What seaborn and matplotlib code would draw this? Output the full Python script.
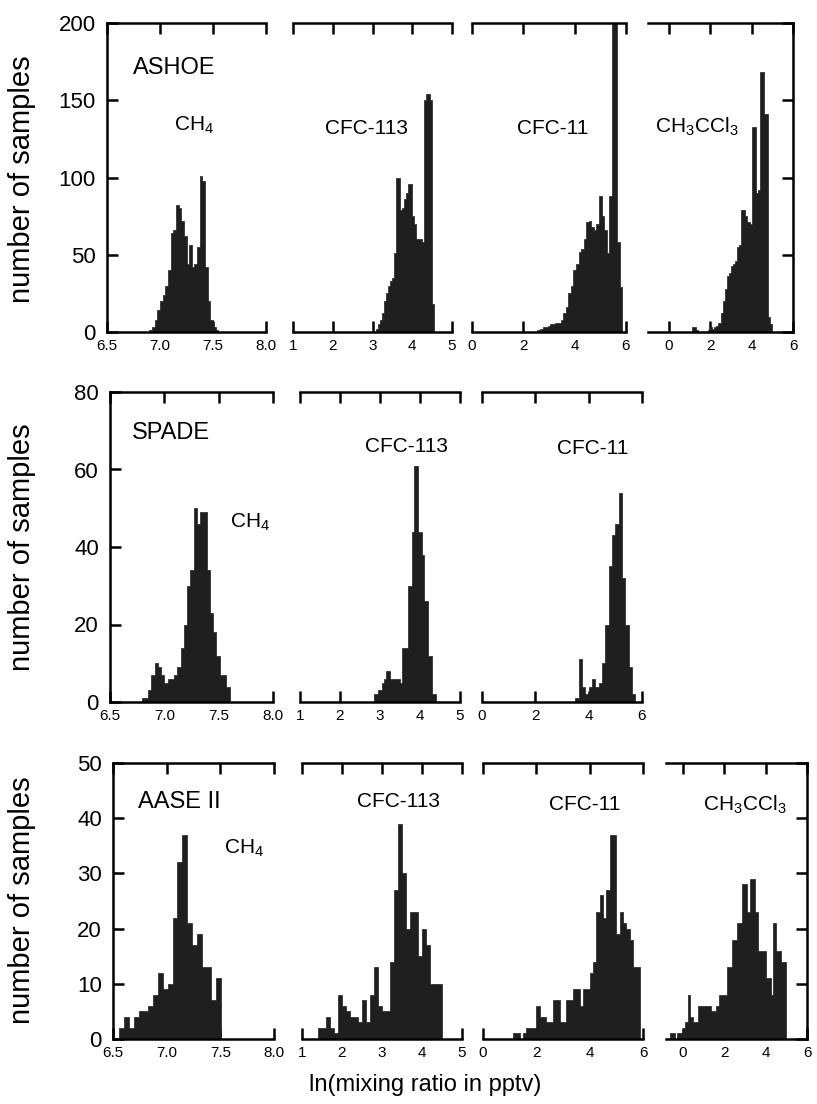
import numpy as np
import pandas as pd
import matplotlib
matplotlib.use("Agg")
import matplotlib.pyplot as plt
import seaborn as sns

sns.set_style("ticks")
plt.rcParams['font.family'] = ['Liberation Sans', 'DejaVu Sans']
plt.rcParams['mathtext.fontset'] = 'custom'
plt.rcParams['mathtext.rm'] = 'Liberation Sans'
plt.rcParams['text.color'] = 'black'
plt.rcParams['xtick.color'] = 'black'
plt.rcParams['ytick.color'] = 'black'

# ---- data: histogram counts (bin start, bin width, counts) ----
# ASHOE
ashoe_ch4_start, ashoe_ch4_width = 6.9, 0.025
ashoe_ch4 = [1, 3, 8, 14, 20, 24, 30, 40, 64, 66, 82, 80, 72, 62, 44, 56, 42, 44, 55,
             101, 98, 42, 20, 8, 3, 1]
ashoe_f113_start, ashoe_f113_width = 3.1, 0.05
ashoe_f113 = [2, 5, 8, 12, 20, 25, 30, 33, 35, 51, 100, 100, 79, 80, 86, 90, 96, 96, 75,
              70, 60, 60, 60, 58, 150, 154, 154, 150, 18]
ashoe_f11_start, ashoe_f11_width = 2.55, 0.1
ashoe_f11 = [1, 2, 3, 3, 4, 5, 5, 6, 6, 8, 12, 16, 25, 30, 40, 44, 52, 54, 60, 71, 72, 68,
             66, 70, 88, 75, 66, 51, 88, 200, 200, 58, 29]
ashoe_mc_start, ashoe_mc_width = 1.1, 0.1
ashoe_mc = [3, 3, 1, 0, 0, 0, 0, 0, 1, 3, 2, 3, 4, 6, 12, 20, 28, 36, 38, 43, 44, 46, 55,
            56, 79, 79, 75, 71, 70, 133, 133, 90, 92, 168, 168, 141, 141, 10, 5]

# SPADE
spade_ch4_start, spade_ch4_width = 6.79, 0.03
spade_ch4 = [1, 1, 3, 7, 10, 9, 7, 5, 6, 6, 7, 9, 14, 20, 30, 34, 50, 46, 49, 49, 34, 23,
             18, 12, 7, 7, 4]
spade_f113_start, spade_f113_width = 2.85, 0.05
spade_f113 = [2, 2, 3, 3, 5, 6, 8, 8, 6, 6, 6, 6, 6, 5, 14, 14, 14, 30, 30, 44, 61, 61, 44,
              44, 38, 26, 26, 12, 12, 2, 2]
spade_f11_start, spade_f11_width = 3.5, 0.125
spade_f11 = [1, 11, 4, 2, 4, 6, 4, 5, 10, 20, 35, 43, 46, 54, 32, 20, 9, 2]

# AASE II
aase_ch4_start, aase_ch4_width = 6.56, 0.045
aase_ch4 = [2, 4, 2, 4, 5, 5, 6, 8, 12, 9, 10, 22, 32, 37, 21, 17, 19, 13, 13, 7, 11]
aase_f113_start, aase_f113_width = 1.4, 0.1
aase_f113 = [2, 2, 4, 2, 1, 8, 6, 5, 4, 4, 3, 7, 3, 8, 13, 6, 5, 5, 14, 27, 39, 30, 20,
             23, 23, 15, 20, 17, 10, 10, 10]
aase_f11_start, aase_f11_width = 1.125, 0.125
aase_f11 = [1, 1, 0, 1, 2, 2, 2, 6, 4, 4, 3, 3, 7, 7, 3, 3, 7, 7, 9, 9, 6, 9, 9, 12, 14,
            23, 26, 22, 27, 37, 37, 19, 23, 21, 20, 18, 13, 13]
aase_mc_start, aase_mc_width = -0.625, 0.125
aase_mc = [1, 1, 0, 1, 1, 2, 3, 8, 4, 3, 3, 6, 6, 6, 6, 6, 5, 5, 6, 8, 8, 8, 13, 13, 18,
           18, 21, 21, 28, 28, 23, 29, 29, 23, 16, 16, 16, 11, 11, 8, 21, 16, 16, 14, 14]

ch4_ticks = [6.5, 7.0, 7.5, 8.0]
ch4_labels = ['6.5', '7.0', '7.5', '8.0']
f113_ticks = [1, 2, 3, 4, 5]
f11_ticks = [0, 2, 4, 6]

row_names = ['ASHOE', 'SPADE', 'AASE II']
row_ylims = [200, 80, 50]
row_ysteps = [50, 20, 10]

CH4 = 'CH$_\\mathregular{4}$'
MC = 'CH$_\\mathregular{3}$CCl$_\\mathregular{3}$'

W, H = 817, 1104
BAR = '#1f1f1f'


def rect(l, t, r, b):
    return [l / W, 1 - b / H, (r - l) / W, (b - t) / H]


def hist(ax, start, width, counts):
    edges = start + width * np.arange(len(counts) + 1)
    df = pd.DataFrame({'x': edges[:-1] + width / 2, 'n': counts})
    sns.histplot(data=df, x='x', weights='n', bins=edges.tolist(), ax=ax, color=BAR,
                 element='step', fill=True, alpha=1, linewidth=0.5, edgecolor=BAR)
    ax.set_xlabel('')
    ax.set_ylabel('')


fig = plt.figure(figsize=(W / 100, H / 100), dpi=100)

# (row, pos, rect, data, xlim, xticks, xticklabels, label, label xy)
panels = [
    (0, 'first', rect(107, 23, 266, 332), (ashoe_ch4_start, ashoe_ch4_width, ashoe_ch4),
     (6.5, 8.0), ch4_ticks, ch4_labels, CH4, (7.13, 134)),
    (0, 'mid', rect(293, 23, 452, 332), (ashoe_f113_start, ashoe_f113_width, ashoe_f113),
     (1, 5), f113_ticks, None, 'CFC-113', (1.8, 132)),
    (0, 'mid', rect(472, 23, 626, 332), (ashoe_f11_start, ashoe_f11_width, ashoe_f11),
     (0, 6), f11_ticks, None, 'CFC-11', (1.77, 132)),
    (0, 'last', rect(648, 23, 793, 332), (ashoe_mc_start, ashoe_mc_width, ashoe_mc),
     (-1, 6), f11_ticks, None, MC, (-0.66, 133)),
    (1, 'first', rect(110, 392, 273, 702), (spade_ch4_start, spade_ch4_width, spade_ch4),
     (6.5, 8.0), ch4_ticks, ch4_labels, CH4, (7.6, 46.5)),
    (1, 'mid', rect(300, 392, 460, 702), (spade_f113_start, spade_f113_width, spade_f113),
     (1, 5), f113_ticks, None, 'CFC-113', (2.62, 65.9)),
    (1, 'mid', rect(482, 392, 642, 702), (spade_f11_start, spade_f11_width, spade_f11),
     (0, 6), f11_ticks, None, 'CFC-11', (2.8, 65.5)),
    (2, 'first', rect(113, 763, 274, 1039), (aase_ch4_start, aase_ch4_width, aase_ch4),
     (6.5, 8.0), ch4_ticks, ch4_labels, CH4, (7.53, 34.5)),
    (2, 'mid', rect(302, 763, 462, 1039), (aase_f113_start, aase_f113_width, aase_f113),
     (1, 5), f113_ticks, None, 'CFC-113', (2.38, 43)),
    (2, 'mid', rect(483, 763, 643, 1039), (aase_f11_start, aase_f11_width, aase_f11),
     (0, 6), f11_ticks, None, 'CFC-11', (2.49, 42.4)),
    (2, 'last', rect(666, 763, 807, 1039), (aase_mc_start, aase_mc_width, aase_mc),
     (-0.8, 6), f11_ticks, None, MC, (1.0, 42.5)),
]

name_xy = [(6.742, 171), (6.70, 69.4), (6.736, 43)]

for row, pos, r, (start, width, counts), xlim, xt, xtl, label, lxy in panels:
    ax = fig.add_axes(r)
    hist(ax, start, width, counts)
    top = row_ylims[row]
    ax.set_xlim(*xlim)
    ax.set_ylim(0, top)
    ax.set_xticks(xt)
    if xtl is not None:
        ax.set_xticklabels(xtl)
    ax.set_yticks(np.arange(0, top + 1, row_ysteps[row]))
    for s in ax.spines.values():
        s.set_linewidth(1.8)
        s.set_color('black')
    ax.tick_params(axis='x', direction='in', top=True, bottom=True, length=8,
                   width=1.8, labelsize=11, pad=5)
    if pos == 'first':
        ax.spines['right'].set_visible(False)
        ax.tick_params(axis='y', direction='in', left=True, right=False, length=8,
                       width=1.8, labelsize=16, pad=8)
        ax.text(name_xy[row][0], name_xy[row][1], row_names[row], fontsize=17,
                ha='left', va='center')
    elif pos == 'mid':
        ax.spines['left'].set_visible(False)
        ax.spines['right'].set_visible(False)
        ax.tick_params(axis='y', left=False, right=False, labelleft=False)
    else:
        ax.spines['left'].set_visible(False)
        ax.tick_params(axis='y', direction='in', left=False, right=True, length=8,
                       width=1.8, labelleft=False, labelright=False)
    ax.text(lxy[0], lxy[1], label, fontsize=15, ha='left', va='center')

for yc in [179, 547, 900]:
    fig.text(22 / W, 1 - yc / H, 'number of samples', rotation=90, fontsize=21,
             ha='center', va='center')

fig.text(425 / W, 1 - 1085 / H, 'ln(mixing ratio in pptv)', fontsize=17,
         ha='center', va='center')

fig.savefig('out.png', dpi=100)
